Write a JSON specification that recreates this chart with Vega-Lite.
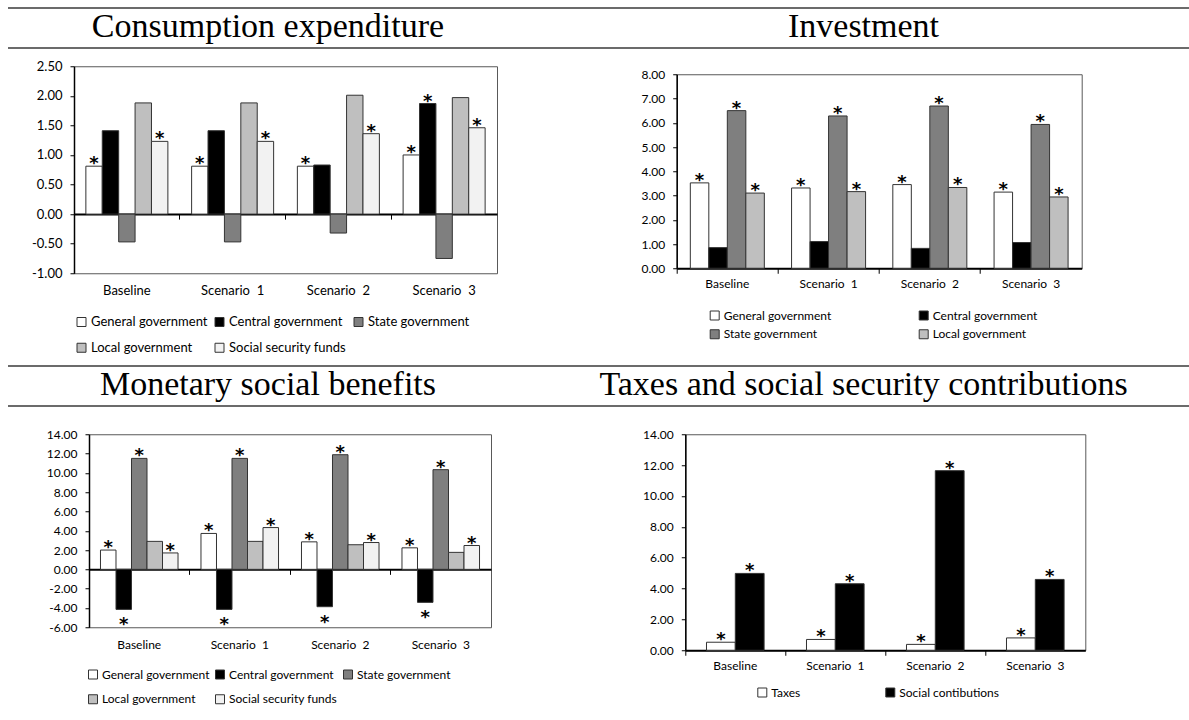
{
  "$schema": "https://vega.github.io/schema/vega-lite/v6.json",
  "padding": {"left": 7, "top": 7, "right": 0, "bottom": 16},
  "background": "white",
  "config": {
    "locale": {"number": {"decimal": ".", "thousands": ",", "grouping": [3], "currency": ["", ""], "minus": "-"}},
    "view": {"stroke": "#595959", "strokeWidth": 1},
    "font": "Lato",
    "axis": {"labelFont": "Lato", "labelFontSize": 12, "labelColor": "#000000", "tickColor": "#000000", "domainColor": "#000000", "grid": false, "zindex": 1, "labelOverlap": false},
    "axisY": {"tickSize": 4, "labelPadding": 8, "domainWidth": 1.5},
    "axisX": {"labelAngle": 0, "tickSize": 5, "domainWidth": 2},
    "legend": {"symbolType": "square", "symbolSize": 81, "symbolStrokeColor": "#333333", "symbolStrokeWidth": 1, "labelFont": "Lato", "labelFontSize": 12, "labelColor": "#000000", "labelOffset": 3, "padding": 0, "direction": "horizontal"}
  },
  "datasets": {
    "consumption": [
      {"scenario": "Baseline", "series": "General government", "value": 0.81, "star": "*"},
      {"scenario": "Baseline", "series": "Central government", "value": 1.41, "star": ""},
      {"scenario": "Baseline", "series": "State government", "value": -0.47, "star": ""},
      {"scenario": "Baseline", "series": "Local government", "value": 1.88, "star": ""},
      {"scenario": "Baseline", "series": "Social security funds", "value": 1.23, "star": "*"},
      {"scenario": "Scenario\u00a0 1", "series": "General government", "value": 0.81, "star": "*"},
      {"scenario": "Scenario\u00a0 1", "series": "Central government", "value": 1.41, "star": ""},
      {"scenario": "Scenario\u00a0 1", "series": "State government", "value": -0.47, "star": ""},
      {"scenario": "Scenario\u00a0 1", "series": "Local government", "value": 1.88, "star": ""},
      {"scenario": "Scenario\u00a0 1", "series": "Social security funds", "value": 1.23, "star": "*"},
      {"scenario": "Scenario\u00a0 2", "series": "General government", "value": 0.81, "star": "*"},
      {"scenario": "Scenario\u00a0 2", "series": "Central government", "value": 0.83, "star": ""},
      {"scenario": "Scenario\u00a0 2", "series": "State government", "value": -0.32, "star": ""},
      {"scenario": "Scenario\u00a0 2", "series": "Local government", "value": 2.01, "star": ""},
      {"scenario": "Scenario\u00a0 2", "series": "Social security funds", "value": 1.36, "star": "*"},
      {"scenario": "Scenario\u00a0 3", "series": "General government", "value": 1.0, "star": "*"},
      {"scenario": "Scenario\u00a0 3", "series": "Central government", "value": 1.87, "star": "*"},
      {"scenario": "Scenario\u00a0 3", "series": "State government", "value": -0.75, "star": ""},
      {"scenario": "Scenario\u00a0 3", "series": "Local government", "value": 1.97, "star": ""},
      {"scenario": "Scenario\u00a0 3", "series": "Social security funds", "value": 1.46, "star": "*"}
    ],
    "investment": [
      {"scenario": "Baseline", "series": "General government", "value": 3.52, "star": "*"},
      {"scenario": "Baseline", "series": "Central government", "value": 0.85, "star": ""},
      {"scenario": "Baseline", "series": "State government", "value": 6.5, "star": "*"},
      {"scenario": "Baseline", "series": "Local government", "value": 3.1, "star": "*"},
      {"scenario": "Scenario\u00a0 1", "series": "General government", "value": 3.31, "star": "*"},
      {"scenario": "Scenario\u00a0 1", "series": "Central government", "value": 1.1, "star": ""},
      {"scenario": "Scenario\u00a0 1", "series": "State government", "value": 6.28, "star": "*"},
      {"scenario": "Scenario\u00a0 1", "series": "Local government", "value": 3.16, "star": "*"},
      {"scenario": "Scenario\u00a0 2", "series": "General government", "value": 3.45, "star": "*"},
      {"scenario": "Scenario\u00a0 2", "series": "Central government", "value": 0.82, "star": ""},
      {"scenario": "Scenario\u00a0 2", "series": "State government", "value": 6.69, "star": "*"},
      {"scenario": "Scenario\u00a0 2", "series": "Local government", "value": 3.33, "star": "*"},
      {"scenario": "Scenario\u00a0 3", "series": "General government", "value": 3.14, "star": "*"},
      {"scenario": "Scenario\u00a0 3", "series": "Central government", "value": 1.06, "star": ""},
      {"scenario": "Scenario\u00a0 3", "series": "State government", "value": 5.93, "star": "*"},
      {"scenario": "Scenario\u00a0 3", "series": "Local government", "value": 2.94, "star": "*"}
    ],
    "benefits": [
      {"scenario": "Baseline", "series": "General government", "value": 2.0, "star": "*"},
      {"scenario": "Baseline", "series": "Central government", "value": -4.15, "star": "*"},
      {"scenario": "Baseline", "series": "State government", "value": 11.5, "star": "*"},
      {"scenario": "Baseline", "series": "Local government", "value": 2.9, "star": ""},
      {"scenario": "Baseline", "series": "Social security funds", "value": 1.7, "star": "*"},
      {"scenario": "Scenario\u00a0 1", "series": "General government", "value": 3.72, "star": "*"},
      {"scenario": "Scenario\u00a0 1", "series": "Central government", "value": -4.15, "star": "*"},
      {"scenario": "Scenario\u00a0 1", "series": "State government", "value": 11.5, "star": "*"},
      {"scenario": "Scenario\u00a0 1", "series": "Local government", "value": 2.9, "star": ""},
      {"scenario": "Scenario\u00a0 1", "series": "Social security funds", "value": 4.33, "star": "*"},
      {"scenario": "Scenario\u00a0 2", "series": "General government", "value": 2.85, "star": "*"},
      {"scenario": "Scenario\u00a0 2", "series": "Central government", "value": -3.87, "star": "*"},
      {"scenario": "Scenario\u00a0 2", "series": "State government", "value": 11.88, "star": "*"},
      {"scenario": "Scenario\u00a0 2", "series": "Local government", "value": 2.55, "star": ""},
      {"scenario": "Scenario\u00a0 2", "series": "Social security funds", "value": 2.78, "star": "*"},
      {"scenario": "Scenario\u00a0 3", "series": "General government", "value": 2.23, "star": "*"},
      {"scenario": "Scenario\u00a0 3", "series": "Central government", "value": -3.42, "star": "*"},
      {"scenario": "Scenario\u00a0 3", "series": "State government", "value": 10.33, "star": "*"},
      {"scenario": "Scenario\u00a0 3", "series": "Local government", "value": 1.76, "star": ""},
      {"scenario": "Scenario\u00a0 3", "series": "Social security funds", "value": 2.47, "star": "*"}
    ],
    "taxes": [
      {"scenario": "Baseline", "series": "Taxes", "value": 0.52, "star": "*"},
      {"scenario": "Baseline", "series": "Social contibutions", "value": 4.98, "star": "*"},
      {"scenario": "Scenario\u00a0 1", "series": "Taxes", "value": 0.7, "star": "*"},
      {"scenario": "Scenario\u00a0 1", "series": "Social contibutions", "value": 4.31, "star": "*"},
      {"scenario": "Scenario\u00a0 2", "series": "Taxes", "value": 0.38, "star": "*"},
      {"scenario": "Scenario\u00a0 2", "series": "Social contibutions", "value": 11.64, "star": "*"},
      {"scenario": "Scenario\u00a0 3", "series": "Taxes", "value": 0.8, "star": "*"},
      {"scenario": "Scenario\u00a0 3", "series": "Social contibutions", "value": 4.59, "star": "*"}
    ]
  },
  "resolve": {"scale": {"x": "independent", "y": "independent", "xOffset": "independent", "fill": "independent"}, "legend": {"fill": "independent"}},
  "spacing": 9,
  "vconcat": [
    {
      "spacing": 10,
      "resolve": {"scale": {"x": "independent", "y": "independent", "xOffset": "independent", "fill": "independent"}, "legend": {"fill": "independent"}},
      "vconcat": [
        {
          "width": 1182, "height": 40,
          "view": {"stroke": null},
          "layer": [
            {
              "data": {"values": [{"edge": 0}, {"edge": 1}]},
              "mark": {"type": "rule", "color": "#3a3a3a", "strokeWidth": 1.3},
              "encoding": {"y": {"field": "edge", "type": "quantitative", "scale": {"domain": [0, 1], "nice": false}, "axis": null}}
            },
            {
              "data": {"values": [{"col": "left", "title": "Consumption expenditure"}, {"col": "right", "title": "Investment"}]},
              "mark": {"type": "text", "font": "Liberation Serif", "fontSize": 34, "baseline": "alphabetic", "dy": 9, "color": "#000000"},
              "encoding": {
                "x": {"field": "col", "type": "nominal", "scale": {"type": "point", "domain": ["left", "right"], "padding": 0.4924, "align": 0.4433}, "axis": null},
                "text": {"field": "title"}
              }
            }
          ]
        },
        {
          "spacing": 0,
          "resolve": {"scale": {"x": "independent", "y": "independent", "xOffset": "independent", "fill": "independent"}, "legend": {"fill": "independent"}},
          "hconcat": [
            {"width": 1, "height": 1, "view": {"stroke": null}, "data": {"values": []}, "mark": "point"},
            {
              "spacing": 137.7,
              "center": true,
              "resolve": {"scale": {"x": "independent", "y": "independent", "xOffset": "independent", "fill": "independent"}, "legend": {"fill": "independent"}},
              "hconcat": [
                {
                  "width": 423, "height": 207,
                  "data": {"name": "consumption"},
                  "encoding": {
                    "x": {"field": "scenario", "type": "nominal", "title": null, "scale": {"paddingInner": 0, "paddingOuter": 0},
                          "axis": {"offset": -59.14, "labelPadding": 65, "bandPosition": 0, "labelFontSize": 13}},
                    "xOffset": {"field": "series", "type": "nominal", "scale": {"domain": ["General government", "Central government", "State government", "Local government", "Social security funds"], "paddingInner": 0, "paddingOuter": 0.724}},
                    "y": {"field": "value", "type": "quantitative", "title": null, "scale": {"domain": [-1, 2.5], "nice": false},
                          "axis": {"values": [-1, -0.5, 0, 0.5, 1, 1.5, 2, 2.5], "format": ".2f", "minExtent": 64, "labelFontSize": 13}}
                  },
                  "layer": [
                    {
                      "mark": {"type": "bar", "stroke": "#333333", "strokeWidth": 1},
                      "encoding": {
                        "fill": {"field": "series", "type": "nominal", "title": null,
                                 "scale": {"domain": ["General government", "Central government", "State government", "Local government", "Social security funds"], "range": ["#ffffff", "#000000", "#7f7f7f", "#bfbfbf", "#f2f2f2"]},
                                 "legend": {"orient": "none", "legendX": 1, "legendY": 249, "columns": 3, "columnPadding": 5, "rowPadding": 12, "labelFontSize": 13}}
                      }
                    },
                    {
                      "transform": [{"filter": "datum.star === '*' && datum.value >= 0"}],
                      "mark": {"type": "text", "font": "DejaVu Sans", "fontWeight": "bold", "fontSize": 18, "baseline": "alphabetic", "dy": 3, "color": "#000000"},
                      "encoding": {"text": {"field": "star"}}
                    }
                  ]
                },
                {
                  "width": 405, "height": 194,
                  "data": {"name": "investment"},
                  "encoding": {
                    "x": {"field": "scenario", "type": "nominal", "title": null, "scale": {"paddingInner": 0, "paddingOuter": 0},
                          "axis": {"labelPadding": 5, "bandPosition": 0}},
                    "xOffset": {"field": "series", "type": "nominal", "scale": {"domain": ["General government", "Central government", "State government", "Local government"], "paddingInner": 0, "paddingOuter": 0.736}},
                    "y": {"field": "value", "type": "quantitative", "title": null, "scale": {"domain": [0, 8], "nice": false},
                          "axis": {"values": [0, 1, 2, 3, 4, 5, 6, 7, 8], "format": ".2f", "minExtent": 40}}
                  },
                  "layer": [
                    {
                      "mark": {"type": "bar", "stroke": "#333333", "strokeWidth": 1},
                      "encoding": {
                        "fill": {"field": "series", "type": "nominal", "title": null,
                                 "scale": {"domain": ["General government", "Central government", "State government", "Local government"], "range": ["#ffffff", "#000000", "#7f7f7f", "#bfbfbf"]},
                                 "legend": {"orient": "none", "legendX": 26, "legendY": 229, "padding": 6, "columns": 2, "columnPadding": 85, "rowPadding": 5}}
                      }
                    },
                    {
                      "transform": [{"filter": "datum.star === '*'"}],
                      "mark": {"type": "text", "font": "DejaVu Sans", "fontWeight": "bold", "fontSize": 18, "baseline": "alphabetic", "dy": 3, "color": "#000000"},
                      "encoding": {"text": {"field": "star"}}
                    }
                  ]
                }
              ]
            }
          ]
        }
      ]
    },
    {
      "spacing": 20,
      "resolve": {"scale": {"x": "independent", "y": "independent", "xOffset": "independent", "fill": "independent"}, "legend": {"fill": "independent"}},
      "vconcat": [
        {
          "width": 1182, "height": 40,
          "view": {"stroke": null},
          "layer": [
            {
              "data": {"values": [{"edge": 0}, {"edge": 1}]},
              "mark": {"type": "rule", "color": "#3a3a3a", "strokeWidth": 1.3},
              "encoding": {"y": {"field": "edge", "type": "quantitative", "scale": {"domain": [0, 1], "nice": false}, "axis": null}}
            },
            {
              "data": {"values": [{"col": "left", "title": "Monetary social benefits"}, {"col": "right", "title": "Taxes and social security contributions"}]},
              "mark": {"type": "text", "font": "Liberation Serif", "fontSize": 34, "baseline": "alphabetic", "dy": 9, "color": "#000000"},
              "encoding": {
                "x": {"field": "col", "type": "nominal", "scale": {"type": "point", "domain": ["left", "right"], "padding": 0.4924, "align": 0.4433}, "axis": null},
                "text": {"field": "title"}
              }
            }
          ]
        },
        {
          "spacing": 0,
          "resolve": {"scale": {"x": "independent", "y": "independent", "xOffset": "independent", "fill": "independent"}, "legend": {"fill": "independent"}},
          "hconcat": [
            {"width": 1, "height": 1, "view": {"stroke": null}, "data": {"values": []}, "mark": "point"},
            {
              "spacing": 149.3,
              "center": true,
              "resolve": {"scale": {"x": "independent", "y": "independent", "xOffset": "independent", "fill": "independent"}, "legend": {"fill": "independent"}},
              "hconcat": [
                {
                  "width": 402, "height": 193,
                  "data": {"name": "benefits"},
                  "encoding": {
                    "x": {"field": "scenario", "type": "nominal", "title": null, "scale": {"paddingInner": 0, "paddingOuter": 0},
                          "axis": {"offset": -57.9, "labelPadding": 65, "bandPosition": 0}},
                    "xOffset": {"field": "series", "type": "nominal", "scale": {"domain": ["General government", "Central government", "State government", "Local government", "Social security funds"], "paddingInner": 0, "paddingOuter": 0.74}},
                    "y": {"field": "value", "type": "quantitative", "title": null, "scale": {"domain": [-6, 14], "nice": false},
                          "axis": {"values": [-6, -4, -2, 0, 2, 4, 6, 8, 10, 12, 14], "format": ".2f", "minExtent": 79}}
                  },
                  "layer": [
                    {
                      "mark": {"type": "bar", "stroke": "#333333", "strokeWidth": 1},
                      "encoding": {
                        "fill": {"field": "series", "type": "nominal", "title": null,
                                 "scale": {"domain": ["General government", "Central government", "State government", "Local government", "Social security funds"], "range": ["#ffffff", "#000000", "#7f7f7f", "#bfbfbf", "#f2f2f2"]},
                                 "legend": {"orient": "none", "legendX": -2, "legendY": 234, "columns": 3, "columnPadding": 3, "rowPadding": 11}}
                      }
                    },
                    {
                      "transform": [{"filter": "datum.star === '*' && datum.value >= 0"}],
                      "mark": {"type": "text", "font": "DejaVu Sans", "fontWeight": "bold", "fontSize": 18, "baseline": "alphabetic", "dy": 3, "color": "#000000"},
                      "encoding": {"text": {"field": "star"}}
                    },
                    {
                      "transform": [{"filter": "datum.star === '*' && datum.value < 0"}],
                      "mark": {"type": "text", "font": "DejaVu Sans", "fontWeight": "bold", "fontSize": 18, "baseline": "alphabetic", "dy": 21, "color": "#000000"},
                      "encoding": {"text": {"field": "star"}}
                    }
                  ]
                },
                {
                  "width": 400, "height": 216,
                  "data": {"name": "taxes"},
                  "encoding": {
                    "x": {"field": "scenario", "type": "nominal", "title": null, "scale": {"paddingInner": 0, "paddingOuter": 0},
                          "axis": {"labelPadding": 5.5, "bandPosition": 0}},
                    "xOffset": {"field": "series", "type": "nominal", "scale": {"domain": ["Taxes", "Social contibutions"], "paddingInner": 0, "paddingOuter": 0.736}},
                    "y": {"field": "value", "type": "quantitative", "title": null, "scale": {"domain": [0, 14], "nice": false},
                          "axis": {"values": [0, 2, 4, 6, 8, 10, 12, 14], "format": ".2f", "minExtent": 40}}
                  },
                  "layer": [
                    {
                      "mark": {"type": "bar", "stroke": "#333333", "strokeWidth": 1},
                      "encoding": {
                        "fill": {"field": "series", "type": "nominal", "title": null,
                                 "scale": {"domain": ["Taxes", "Social contibutions"], "range": ["#ffffff", "#000000"]},
                                 "legend": {"orient": "none", "legendX": 64, "legendY": 245, "padding": 7, "columns": 2, "columnPadding": 83}}
                      }
                    },
                    {
                      "transform": [{"filter": "datum.star === '*'"}],
                      "mark": {"type": "text", "font": "DejaVu Sans", "fontWeight": "bold", "fontSize": 18, "baseline": "alphabetic", "dy": 3, "color": "#000000"},
                      "encoding": {"text": {"field": "star"}}
                    }
                  ]
                }
              ]
            }
          ]
        }
      ]
    }
  ]
}
